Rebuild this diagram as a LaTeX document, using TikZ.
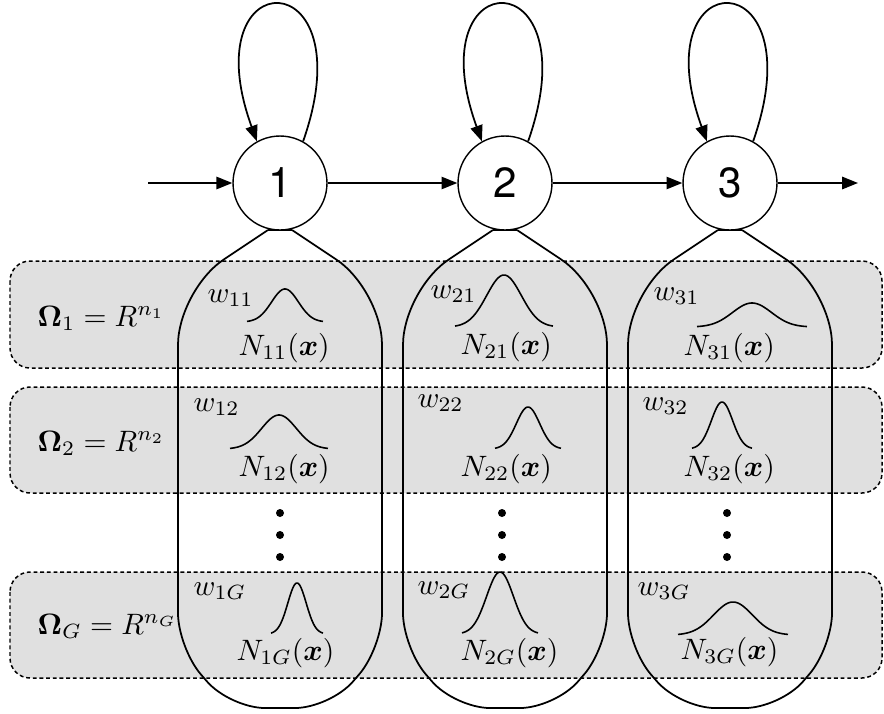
\documentclass[tikz,border=0pt]{standalone}
\usepackage{amsmath}
\usepackage[no-math]{fontspec}
\newfontfamily\headfont{TeX Gyre Heros}
\usetikzlibrary{arrows.meta}
\definecolor{bandgray}{HTML}{E0E0E0}
\tikzset{
  band/.style={draw, fill=bandgray, dash pattern=on 2.2pt off 1.6pt, line width=0.85pt, rounded corners=0.4cm},
  capsule/.style={draw, line width=1pt},
  state/.style={circle, draw, fill=white, line width=0.8pt, minimum size=1.88cm, inner sep=0pt, font=\headfont\fontsize{24}{24}\selectfont},
  arr/.style={line width=1pt, -{Triangle[length=9pt,width=7pt]}},
  lbl/.style={anchor=base west, inner sep=0pt, scale=1.68},
  bell/.style={line width=0.9pt},
  dotm/.style={circle, fill=black, inner sep=0pt, minimum size=0.16cm}
}
\newcommand{\bellcurve}[4]{\draw[bell] plot[domain=-1:1,samples=60,smooth] ({#1+#2*(\x)},{#3-#4*exp(-4*(\x)*(\x))});}
\begin{document}
\begin{tikzpicture}[x=0.02cm, y=-0.02cm]
\useasboundingbox (0,0) rectangle (884,713);
% bands
\path[band] (10,261) rectangle (882,368);
\path[band] (10,387) rectangle (882,493);
\path[band] (10,572) rectangle (882,678);
% capsules
\foreach \c in {280,505,730} {
  \draw[capsule, rounded corners=1.1cm] ({\c-12},230) -- ({\c-102},290) -- ({\c-102},500);
  \draw[capsule, rounded corners=1.1cm] ({\c+12},230) -- ({\c+102},290) -- ({\c+102},500);
  \draw[capsule, rounded corners=0.7cm] ({\c-102},500) -- ({\c-102},648) -- ({\c-50},708) -- ({\c+50},708) -- ({\c+102},648) -- ({\c+102},500);
  \draw[capsule] ({\c-12},230) -- ({\c+12},230);
}
% states
\node[state] (s1) at (280,183) {1};
\node[state] (s2) at (505,183) {2};
\node[state] (s3) at (730,183) {3};
\coordinate (in) at (148,183);
\coordinate (out) at (858,183);
\draw[arr] (in) -- (s1);
\draw[arr] (s1) -- (s2);
\draw[arr] (s2) -- (s3);
\draw[arr] (s3) -- (out);
\draw[arr] (s1.61) .. controls +(64,-182) and +(-66,-182) .. (s1.119);
\draw[arr] (s2.61) .. controls +(64,-182) and +(-66,-182) .. (s2.119);
\draw[arr] (s3.61) .. controls +(64,-182) and +(-66,-182) .. (s3.119);
% gaussians
\bellcurve{285}{38}{322}{33}
\bellcurve{504}{49}{327}{52}
\bellcurve{752}{55}{327}{24}
\bellcurve{279}{49}{449}{34}
\bellcurve{528}{33}{449}{42}
\bellcurve{722}{30}{449}{47}
\bellcurve{297}{26}{634}{51}
\bellcurve{500}{38}{634}{62}
\bellcurve{733}{55}{635}{33}
% omega labels
\node[lbl] (o1) at (37,326) {$\mathbf{\Omega}_1 = R^{n_1}$};
\node[lbl] (o2) at (37,451) {$\mathbf{\Omega}_2 = R^{n_2}$};
\node[lbl] (oG) at (37,634) {$\mathbf{\Omega}_G = R^{n_G}$};
% weights
\node[lbl] (w11) at (207,302) {$w_{11}$};
\node[lbl] (w21) at (430,298) {$w_{21}$};
\node[lbl] (w31) at (653,300) {$w_{31}$};
\node[lbl] (w12) at (193,411) {$w_{12}$};
\node[lbl] (w22) at (417,407) {$w_{22}$};
\node[lbl] (w32) at (642,410) {$w_{32}$};
\node[lbl] (w1G) at (193,595) {$w_{1G}$};
\node[lbl] (w2G) at (417,594) {$w_{2G}$};
\node[lbl] (w3G) at (637,595) {$w_{3G}$};
% densities
\node[lbl] (N11) at (238,355) {$N_{11}(\boldsymbol{x})$};
\node[lbl] (N21) at (460,354) {$N_{21}(\boldsymbol{x})$};
\node[lbl] (N31) at (683,355) {$N_{31}(\boldsymbol{x})$};
\node[lbl] (N12) at (238,476) {$N_{12}(\boldsymbol{x})$};
\node[lbl] (N22) at (460,476) {$N_{22}(\boldsymbol{x})$};
\node[lbl] (N32) at (683,476) {$N_{32}(\boldsymbol{x})$};
\node[lbl] (N1G) at (236,660) {$N_{1G}(\boldsymbol{x})$};
\node[lbl] (N2G) at (460,660) {$N_{2G}(\boldsymbol{x})$};
\node[lbl] (N3G) at (680,659) {$N_{3G}(\boldsymbol{x})$};
% dots
\node[dotm] (d11) at (280,513) {};
\node[dotm] (d12) at (280,535) {};
\node[dotm] (d13) at (280,557) {};
\node[dotm] (d21) at (502,513) {};
\node[dotm] (d22) at (502,535) {};
\node[dotm] (d23) at (502,557) {};
\node[dotm] (d31) at (727,513) {};
\node[dotm] (d32) at (727,535) {};
\node[dotm] (d33) at (727,557) {};
\end{tikzpicture}
\end{document}
